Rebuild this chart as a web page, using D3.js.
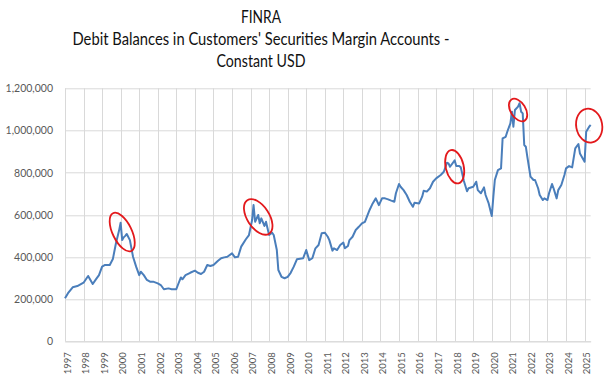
<!DOCTYPE html>
<html>
<head>
<meta charset="utf-8">
<script src="https://cdn.jsdelivr.net/npm/d3@7"></script>
<style>
  body { margin: 0; background: #fff; }
  svg { display: block; }
</style>
</head>
<body>
<div id="chart"></div>
<script>
// monthly readings (approximate) taken from the original chart
const dates = [
  "1997-01","1997-03","1997-06","1997-09","1998-01","1998-04","1998-07","1998-09","1998-11",
  "1999-01","1999-03","1999-06","1999-08","1999-10","1999-12","2000-01","2000-02","2000-03",
  "2000-04","2000-05","2000-07","2000-09","2000-11","2001-01","2001-02","2001-04","2001-06",
  "2001-08","2001-10","2002-01","2002-03","2002-05","2002-08","2002-10","2003-01","2003-02",
  "2003-04","2003-05","2003-07","2003-10","2004-01","2004-03","2004-05","2004-07","2004-09",
  "2004-11","2005-01","2005-04","2005-06","2005-08","2005-10","2006-01","2006-03","2006-05",
  "2006-07","2006-10","2006-12","2007-02","2007-03","2007-04","2007-06","2007-07","2007-08",
  "2007-10","2007-11","2008-01","2008-03","2008-04","2008-06","2008-07","2008-09","2008-11",
  "2009-01","2009-03","2009-05","2009-07","2009-09","2009-11","2010-01","2010-03","2010-05",
  "2010-07","2010-09","2010-11","2011-01","2011-03","2011-04","2011-06","2011-07","2011-09",
  "2011-11","2012-01","2012-02","2012-04","2012-05","2012-07","2012-09","2012-11","2013-01",
  "2013-03","2013-06","2013-08","2013-10","2013-12","2014-02","2014-04","2014-06","2014-08",
  "2014-10","2014-11","2015-01","2015-02","2015-04","2015-06","2015-08","2015-10","2015-11",
  "2016-02","2016-04","2016-05","2016-07","2016-09","2016-11","2017-01","2017-04","2017-06",
  "2017-08","2017-09","2017-10","2018-01","2018-02","2018-04","2018-05","2018-07","2018-09",
  "2018-10","2019-01","2019-03","2019-04","2019-06","2019-08","2019-09","2019-11","2020-01",
  "2020-02","2020-03","2020-05","2020-07","2020-08","2020-10","2020-11","2021-01","2021-02",
  "2021-03","2021-04","2021-06","2021-07","2021-08","2021-09","2021-10","2021-11","2021-12",
  "2022-01","2022-02","2022-04","2022-05","2022-07","2022-08","2022-10","2022-11","2023-01",
  "2023-02","2023-04","2023-05","2023-07","2023-08","2023-10","2023-12","2024-01","2024-03",
  "2024-05","2024-07","2024-09","2024-10","2025-01","2025-02","2025-04","2025-05"
];

const values = [
  204000,228000,256000,262000,278000,310000,272000,294000,314000,
  354000,362000,362000,390000,465000,525000,562000,480000,493000,
  500000,509000,480000,401000,354000,314000,330000,314000,291000,
  283000,283000,275000,267000,247000,251000,247000,247000,267000,
  303000,294000,314000,325000,335000,325000,319000,330000,362000,
  357000,362000,382000,394000,398000,401000,417000,398000,401000,
  449000,484000,504000,575000,646000,567000,599000,560000,583000,
  547000,567000,504000,515000,504000,433000,338000,306000,299000,
  306000,325000,354000,389000,392000,394000,433000,385000,394000,
  441000,457000,512000,515000,496000,480000,430000,441000,433000,
  457000,468000,441000,452000,480000,496000,528000,543000,559000,
  567000,623000,654000,678000,646000,678000,678000,673000,667000,
  662000,702000,746000,733000,717000,694000,662000,638000,657000,
  654000,686000,714000,710000,726000,757000,773000,789000,804000,
  847000,844000,828000,858000,831000,831000,825000,760000,712000,
  726000,733000,757000,717000,702000,730000,694000,654000,594000,
  686000,765000,812000,820000,962000,970000,994000,1034000,1089000,
  1018000,1097000,1113000,1129000,1089000,1081000,931000,923000,875000,
  828000,781000,765000,765000,726000,694000,670000,678000,670000,
  702000,746000,726000,678000,717000,741000,789000,820000,831000,
  825000,915000,936000,891000,852000,994000,1018000,1026000
];

const yTicks = [0, 200000, 400000, 600000, 800000, 1000000, 1200000];
const yearLabels = d3.range(1997, 2026);
const titleLines = ["FINRA", "Debit Balances in Customers' Securities Margin Accounts -", "Constant USD"];

// hand-drawn red rings around the peaks
const ringDates = ["2000-02", "2007-06", "2018-01", "2021-06", "2025-04"];
const ringValues = [518000, 590000, 828000, 1097000, 1023000];

const margin = { top: 88.3, right: 14.3, bottom: 34.7, left: 65 };
const W = 605, H = 376;
const width = W - margin.left - margin.right;
const height = H - margin.top - margin.bottom;

const parse = d3.timeParse("%Y-%m");
const data = dates.map((d, i) => ({ date: parse(d), value: values[i] }));

const svg = d3.select("#chart")
  .append("svg")
  .attr("width", W)
  .attr("height", H);

const g = svg.append("g")
  .attr("transform", `translate(${margin.left},${margin.top})`);

const x = d3.scaleTime()
  .domain([parse("1997-01"), parse("2025-05")])
  .range([0, width]);

const y = d3.scaleLinear()
  .domain([0, 1200000])
  .range([height, 0]);

// title, squeezed a little to get Calibri-like widths
const titleWidths = [40, 377, 89];
svg.append("g")
  .selectAll("text")
  .data(titleLines)
  .join("text")
  .attr("x", 261)
  .attr("y", (d, i) => 22.5 + i * 22)
  .attr("text-anchor", "middle")
  .attr("textLength", (d, i) => titleWidths[i])
  .attr("lengthAdjust", "spacingAndGlyphs")
  .style("font-family", "Lato, 'Open Sans', sans-serif")
  .style("font-size", "16.5px")
  .style("fill", "#111")
  .text(d => d);

// horizontal gridlines
g.append("g")
  .selectAll("line")
  .data(yTicks)
  .join("line")
  .attr("x1", 0)
  .attr("x2", width)
  .attr("y1", d => Math.round(y(d)) + 0.5)
  .attr("y2", d => Math.round(y(d)) + 0.5)
  .attr("stroke", "#d9d9d9")
  .attr("stroke-width", 1);

// vertical gridlines, one per year
g.append("g")
  .selectAll("line")
  .data(yearLabels)
  .join("line")
  .attr("x1", d => Math.round(x(new Date(d, 0, 1))) + 0.5)
  .attr("x2", d => Math.round(x(new Date(d, 0, 1))) + 0.5)
  .attr("y1", 0)
  .attr("y2", height)
  .attr("stroke", "#d9d9d9")
  .attr("stroke-width", 1);

// y axis labels
const yAxis = g.append("g")
  .call(d3.axisLeft(y).tickValues(yTicks).tickFormat(d3.format(",")).tickSize(0).tickPadding(12));
yAxis.select(".domain").remove();
yAxis.selectAll("text")
  .style("font-family", "Lato, sans-serif")
  .style("font-size", "10.5px")
  .style("fill", "#595959");

// x axis
const xAxis = g.append("g")
  .attr("transform", `translate(0,${height})`)
  .call(d3.axisBottom(x)
    .tickValues(yearLabels.map(d => new Date(d, 0, 1)))
    .tickFormat(d3.timeFormat("%Y"))
    .tickSize(0));
xAxis.select(".domain").attr("stroke", "#d9d9d9");
xAxis.selectAll("text")
  .attr("transform", "rotate(-90)")
  .attr("x", -11)
  .attr("y", 2)
  .attr("dy", "0.35em")
  .style("text-anchor", "end")
  .style("font-family", "Lato, sans-serif")
  .style("font-size", "9.5px")
  .style("fill", "#595959");

// the series
g.append("path")
  .datum(data)
  .attr("fill", "none")
  .attr("stroke", "#4a7ebb")
  .attr("stroke-width", 2)
  .attr("stroke-linejoin", "round")
  .attr("d", d3.line().x(d => x(d.date)).y(d => y(d.value)));

// red rings (rx, ry, rotation)
const ringShape = [[21, 9.5, 64], [20, 11, 57], [17, 9, 77], [12.5, 7.5, 58], [17, 13, 80]];
g.append("g")
  .selectAll("ellipse")
  .data(ringDates.map((d, i) => ({ date: parse(d), value: ringValues[i], s: ringShape[i] })))
  .join("ellipse")
  .attr("transform", d => `translate(${x(d.date)},${y(d.value)}) rotate(${d.s[2]})`)
  .attr("rx", d => d.s[0])
  .attr("ry", d => d.s[1])
  .attr("fill", "none")
  .attr("stroke", "#e3191c")
  .attr("stroke-width", 1.8);
</script>
</body>
</html>
